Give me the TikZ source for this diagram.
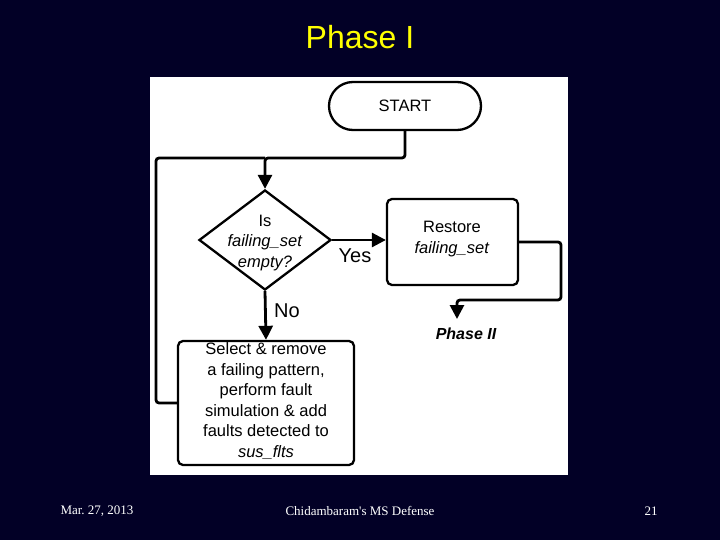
\documentclass[tikz,border=0pt]{standalone}
\usepackage{fontspec}
\setmainfont{Liberation Sans}
\newfontfamily\footfont{Liberation Serif}
\usetikzlibrary{arrows.meta,shapes.geometric}
\definecolor{bgnavy}{RGB}{2,0,38}
\definecolor{titleyellow}{RGB}{255,255,0}
\tikzset{
  box/.style={draw=black,line width=2.3pt,rounded corners=5pt,fill=white},
  conn/.style={draw=black,line width=2.8pt,rounded corners=3pt},
  arr/.style={conn,-{Triangle[length=14pt,width=14pt]}},
  fctext/.style={font=\fontsize{16.5}{20.5}\selectfont,align=center,inner sep=0pt},
  lbl/.style={font=\fontsize{20}{24}\selectfont,inner sep=0pt},
  foot/.style={text=white,font=\footfont\fontsize{13}{15}\selectfont}
}
\frenchspacing
\begin{document}
\begin{tikzpicture}[x=1pt,y=-1pt]
\fill[bgnavy] (0,0) rectangle (720,540);
\useasboundingbox (0,0) rectangle (720,540);
\fill[white] (150,77) rectangle (568,475);
\node[text=titleyellow,font=\fontsize{32}{36}\selectfont] (title) at (360,37) {Phase I};

% nodes
\node[box,rounded corners=24pt,minimum width=152pt,minimum height=48pt,fctext] (start) at (405,106) {START};
\node[draw=black,line width=2.3pt,diamond,minimum width=132pt,minimum height=100pt,inner sep=0pt] (dia) at (265,240) {};
\node[fctext] (diatext) at (265,243) {Is\\\textit{failing\_set}\\\textit{empty?}};
\node[box,minimum width=131pt,minimum height=86pt] (rest) at (452.5,242) {};
\node[fctext] (resttext) at (452,239) {Restore\\\textit{failing\_set}};
\node[box,minimum width=176pt,minimum height=124pt] (sel) at (266,403) {};
\node[fctext] (seltext) at (266,401) {Select \& remove\\a failing pattern,\\perform fault\\simulation \& add\\faults detected to\\\textit{sus\_flts}};
\node[fctext,font=\bfseries\itshape\fontsize{16}{19}\selectfont] (p2) at (466,334) {Phase II};
\node[lbl] (yes) at (355,256) {Yes};
\node[lbl] (no) at (287,311) {No};

% coordinates
\coordinate (j) at (265,158);
\coordinate (lp) at (156,158);
\coordinate (r2) at (561,300);
\coordinate (p2top) at (457,319);

% connectors
\draw[arr] (start.south) |- (j) -- (dia.north);
\draw[conn] (sel.west) -| (lp) -- (j);
\draw[arr] (dia.east) -- (dia.east -| rest.west);
\draw[arr] (dia.south) -- (sel.north);
\draw[arr] (rest.east) -| (r2) -| (p2top);

% footer
\node[foot] (date) at (97,511) {Mar. 27, 2013};
\node[foot] (ftitle) at (360,511) {Chidambaram's MS Defense};
\node[foot] (page) at (651,511) {21};
\end{tikzpicture}
\end{document}
